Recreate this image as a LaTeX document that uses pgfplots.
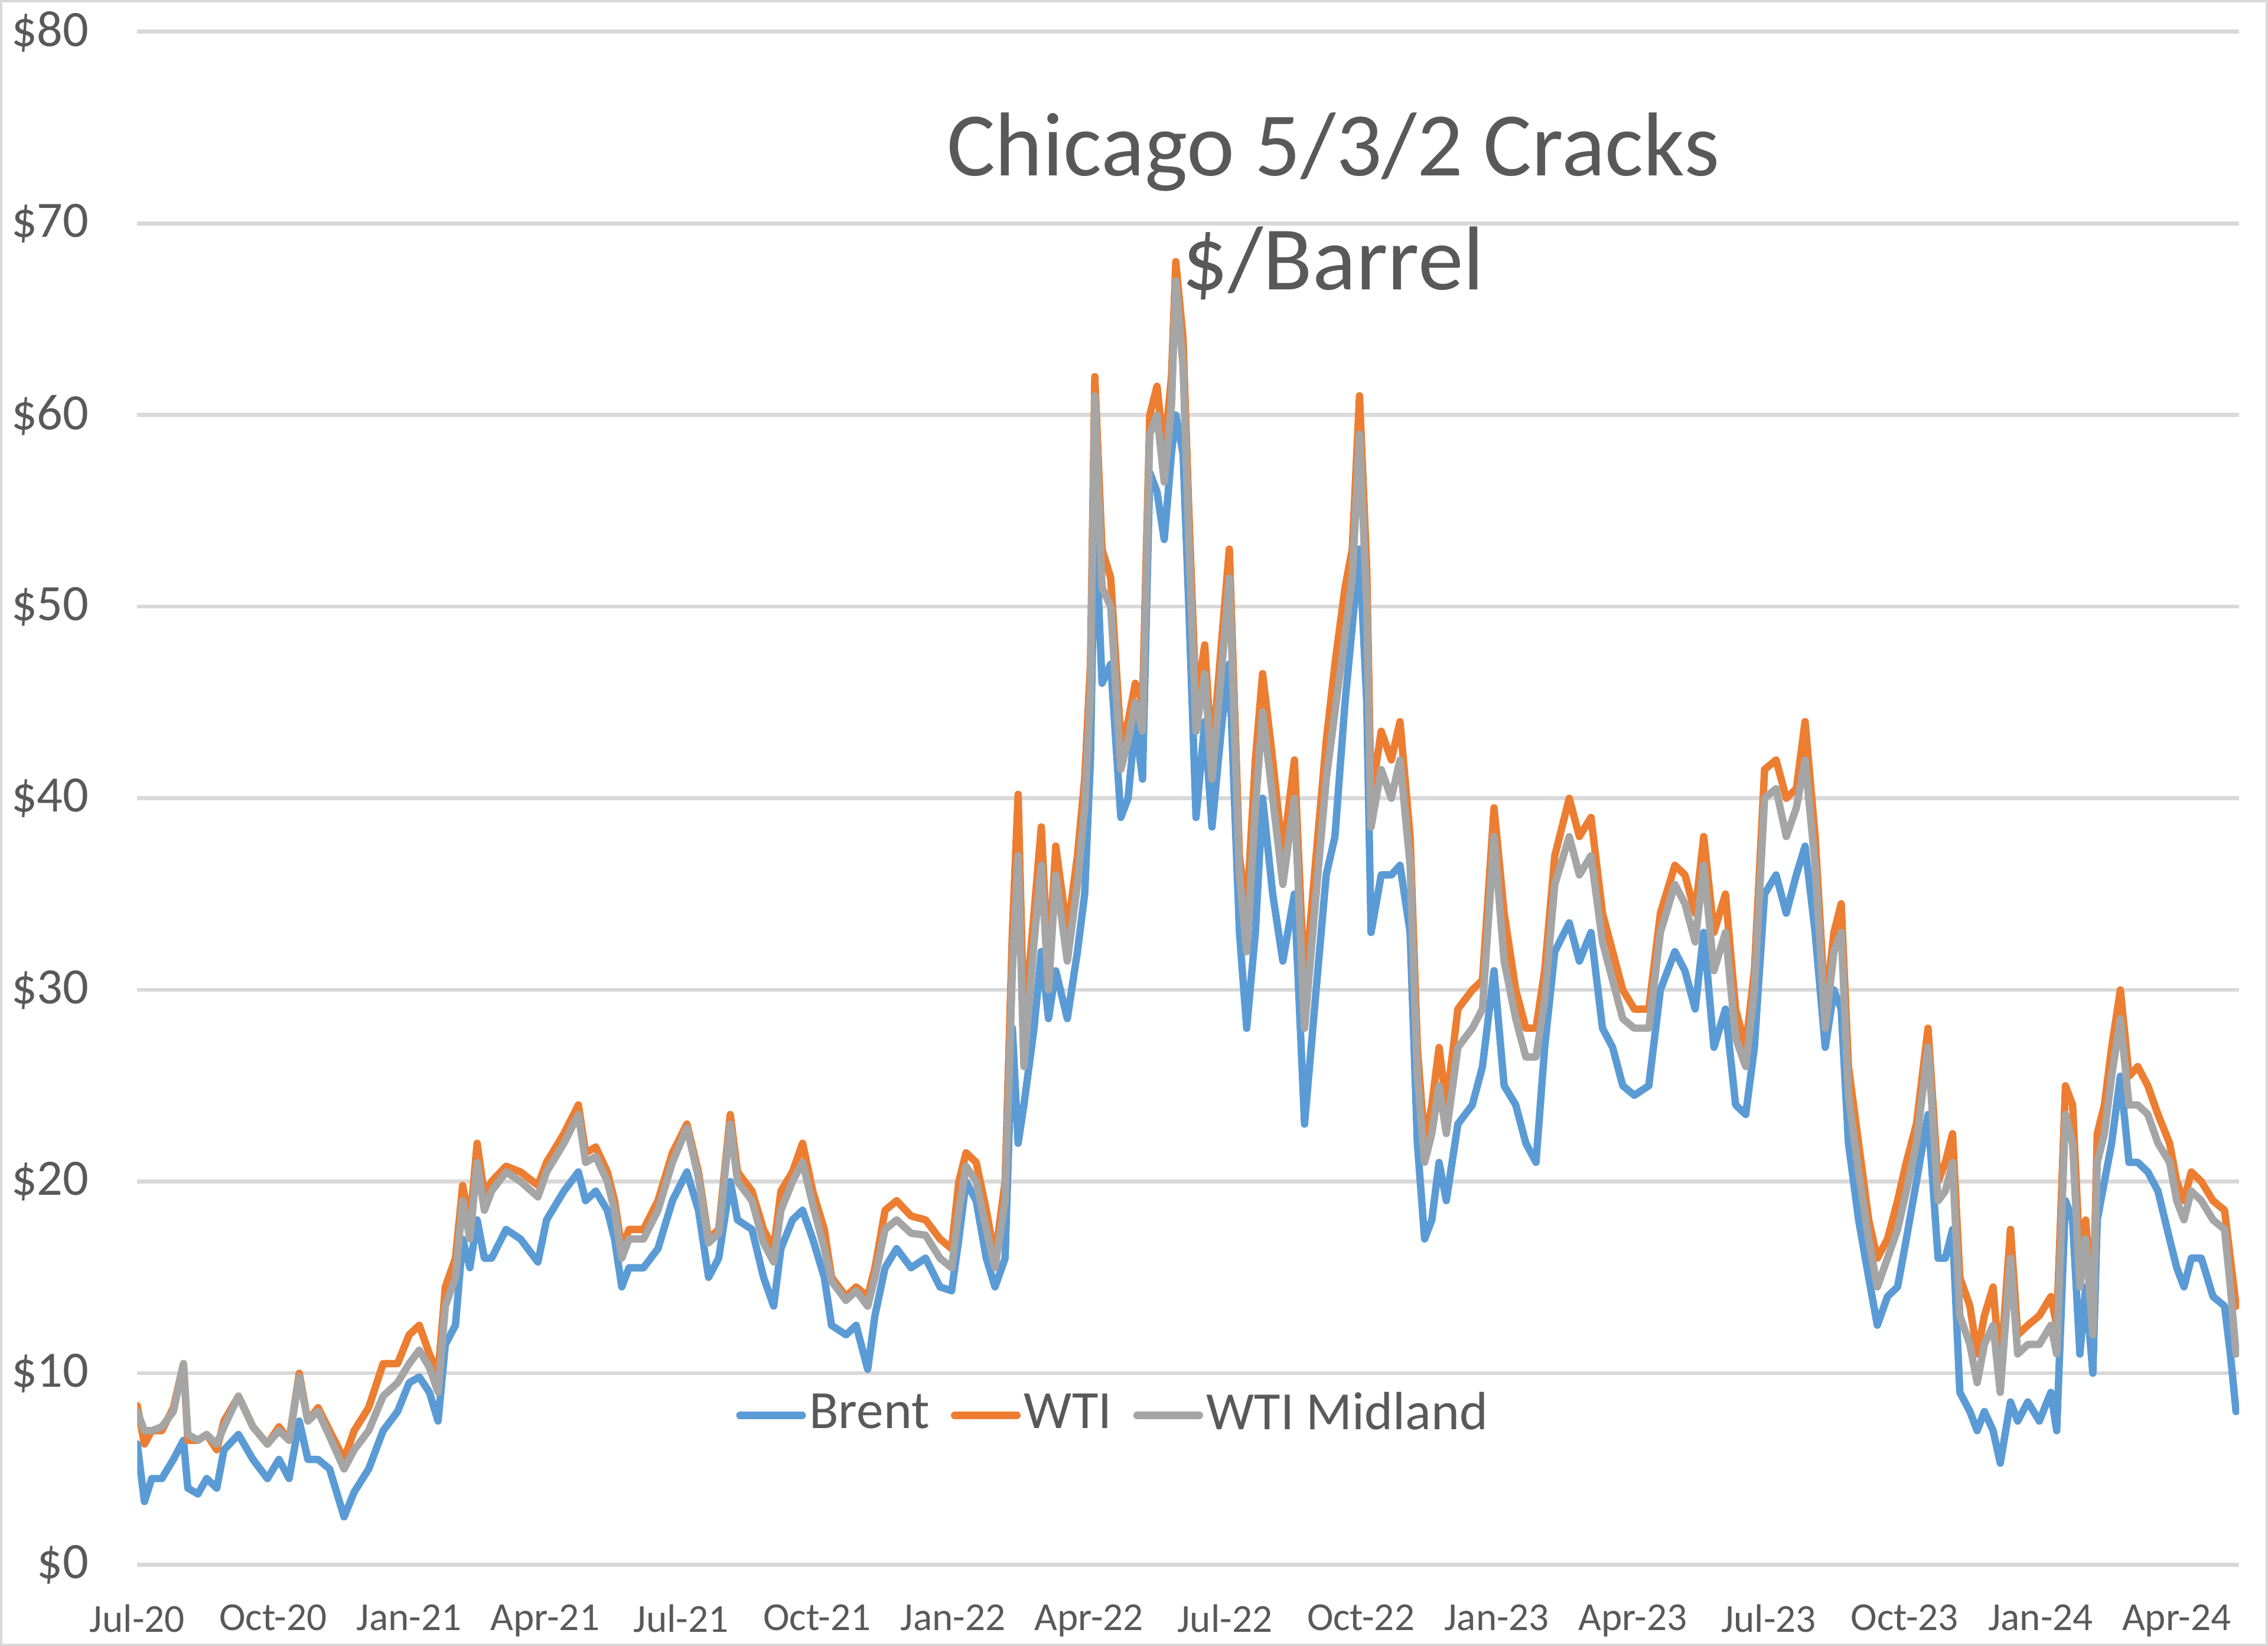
\documentclass[border=0pt]{standalone}
\usepackage{fontspec}
\setmainfont{Carlito}
\usepackage{pgfplots}
\usepackage{pgfplotstable}
\pgfplotsset{compat=1.18}
\definecolor{brent}{HTML}{5B9BD5}
\definecolor{wti}{HTML}{ED7D31}
\definecolor{mid}{HTML}{A5A5A5}
\definecolor{gridc}{HTML}{D9D9D9}
\definecolor{txt}{HTML}{595959}

% px = horizontal position (95 = 1 Jul 2020, 31.33 per month)
\pgfplotstableread{
px B W M
95 6.3 8.3 8.0
100 3.3 6.3 7.0
105 4.5 7.0 7.0
112 4.5 7.0 7.2
120 5.5 8.2 8.0
127 6.5 10.5 10.5
130 4.0 6.5 6.8
137 3.7 6.5 6.5
143 4.5 6.8 6.8
150 4.0 6.0 6.3
155 6.0 7.5 7.2
165 6.8 8.8 8.8
175 5.5 7.2 7.2
185 4.5 6.3 6.3
193 5.5 7.2 7.0
200 4.5 6.5 6.5
207 7.5 10.0 9.8
213 5.5 7.5 7.5
220 5.5 8.2 8.0
228 5.0 7.0 6.7
238 2.5 5.5 5.0
245 3.8 7.0 6.0
255 5.0 8.2 7.0
265 7.0 10.5 8.8
275 8.0 10.5 9.5
283 9.5 12.0 10.5
290 9.8 12.5 11.2
297 9.0 11.0 10.3
303 7.5 10.0 9.0
308 11.5 14.5 13.5
315 12.5 16.0 15.0
320 17.0 19.8 19.0
325 15.5 17.8 17.0
330 18.0 22.0 21.0
335 16.0 19.3 18.5
340 16.0 20.0 19.5
350 17.5 20.8 20.5
360 17.0 20.5 20.0
372 15.8 19.8 19.2
378 18.0 21.0 20.5
390 19.5 22.5 22.0
400 20.5 24.0 23.5
405 19.0 21.5 21.0
412 19.5 21.8 21.3
420 18.5 20.5 20.0
425 17.0 19.0 18.5
430 14.5 16.5 16.0
435 15.5 17.5 17.0
445 15.5 17.5 17.0
455 16.5 19.0 18.5
465 19.0 21.5 21.0
475 20.5 23.0 22.8
483 18.5 20.5 20.2
490 15.0 17.0 16.8
497 16.0 17.5 17.3
505 20.0 23.5 23.0
510 18.0 20.5 20.0
520 17.5 19.5 19.0
528 15.0 17.5 16.8
535 13.5 16.5 15.8
540 16.5 19.5 18.5
548 18.0 20.5 20.0
555 18.5 22.0 21.0
562 17.0 19.5 18.8
570 15.0 17.5 16.5
575 12.5 15.0 14.8
585 12.0 14.0 13.8
592 12.5 14.5 14.3
600 10.2 14.0 13.5
605 13.0 15.5 15.0
612 15.5 18.5 17.5
620 16.5 19.0 18.0
630 15.5 18.2 17.3
640 16.0 18.0 17.2
650 14.5 17.0 16.0
658 14.3 16.5 15.5
663 17.0 20.0 18.5
668 20.0 21.5 20.8
675 19.0 21.0 20.0
682 16.0 18.5 17.5
688 14.5 16.0 15.5
695 16.0 20.0 19.0
700 28.0 33.0 31.0
704 22.0 40.2 37.0
708 24.0 28.0 26.0
715 28.0 34.0 32.5
720 32.0 38.5 36.5
725 28.5 31.0 30.0
730 31.0 37.5 36.0
738 28.5 33.0 31.5
745 32.0 37.0 35.5
750 35.0 41.0 39.5
754 42.0 47.0 45.5
757 55.0 62.0 61.0
762 46.0 53.0 51.0
768 47.0 51.5 50.0
775 39.0 43.0 41.5
780 40.0 44.0 43.0
785 44.0 46.0 45.0
790 41.0 45.0 43.5
795 57.0 60.0 59.0
800 56.0 61.5 60.0
805 53.5 58.0 56.5
810 58.0 62.0 60.5
813 60.0 68.0 67.0
818 58.0 64.0 62.5
822 50.0 55.0 53.5
827 39.0 45.0 43.5
833 44.0 48.0 46.5
838 38.5 42.0 41.0
845 44.0 48.5 47.0
850 47.0 53.0 51.5
857 33.0 37.0 36.0
862 28.0 34.0 32.0
868 33.0 42.0 39.5
873 40.0 46.5 44.5
880 35.0 42.0 40.0
887 31.5 37.0 35.5
895 35.0 42.0 40.0
902 23.0 30.0 28.0
910 30.0 37.0 35.0
917 36.0 43.0 41.0
923 38.0 47.0 44.5
930 45.0 51.0 48.5
935 49.0 53.0 51.5
940 53.0 61.0 59.0
945 45.0 52.0 50.0
948 33.0 40.0 38.5
955 36.0 43.5 41.5
962 36.0 42.0 40.0
968 36.5 44.0 42.0
975 33.0 38.0 36.5
980 22.0 27.0 25.5
985 17.0 22.0 21.0
990 18.0 24.0 22.5
995 21.0 27.0 25.0
1000 19.0 24.0 22.5
1008 23.0 29.0 27.0
1018 24.0 30.0 28.0
1025 26.0 30.5 29.0
1033 31.0 39.5 38.0
1040 25.0 34.0 31.5
1048 24.0 30.0 28.5
1055 22.0 28.0 26.5
1062 21.0 28.0 26.5
1068 27.0 31.0 29.5
1075 32.0 37.0 35.5
1085 33.5 40.0 38.0
1092 31.5 38.0 36.0
1100 33.0 39.0 37.0
1108 28.0 34.0 32.5
1115 27.0 32.0 30.5
1122 25.0 30.0 28.5
1130 24.5 29.0 28.0
1140 25.0 29.0 28.0
1148 30.0 34.0 33.0
1158 32.0 36.5 35.5
1165 31.0 36.0 34.5
1172 29.0 34.0 32.5
1178 33.0 38.0 36.5
1185 27.0 33.0 31.0
1193 29.0 35.0 33.0
1200 24.0 29.0 27.5
1207 23.5 27.0 26.0
1213 27.0 31.0 30.0
1220 35.0 41.5 40.0
1228 36.0 42.0 40.5
1235 34.0 40.0 38.0
1242 36.0 40.5 39.5
1248 37.5 44.0 42.0
1255 33.0 38.0 36.5
1262 27.0 29.0 28.0
1268 30.0 33.0 32.0
1273 29.0 34.5 33.0
1278 22.0 26.0 24.5
1285 18.0 22.0 20.5
1292 15.0 18.0 17.0
1298 12.5 16.0 14.5
1305 14.0 17.0 16.0
1312 14.5 19.0 17.5
1318 17.0 21.0 19.5
1325 20.0 23.0 22.0
1333 23.5 28.0 27.0
1340 16.0 20.0 19.0
1345 16.0 21.0 19.5
1350 17.5 22.5 21.0
1355 9.0 15.0 13.0
1362 8.0 13.5 11.5
1367 7.0 11.0 9.5
1372 8.0 13.0 11.5
1378 7.0 14.5 12.5
1383 5.3 10.0 9.0
1390 8.5 17.5 16.0
1395 7.5 12.0 11.0
1402 8.5 12.5 11.5
1410 7.5 13.0 11.5
1418 9.0 14.0 12.5
1422 7.0 12.5 11.0
1428 19.0 25.0 23.5
1433 18.0 24.0 22.0
1438 11.0 16.0 14.5
1442 14.5 18.0 17.0
1447 10.0 13.0 12.0
1450 18.0 22.5 21.0
1455 20.0 24.0 22.5
1460 22.0 27.0 25.5
1466 25.5 30.0 28.5
1472 21.0 25.5 24.0
1478 21.0 26.0 24.0
1485 20.5 25.0 23.5
1492 19.5 23.5 22.0
1500 17.0 22.0 21.0
1505 15.5 20.0 19.0
1510 14.5 19.0 18.0
1515 16.0 20.5 19.5
1522 16.0 20.0 19.0
1530 14.0 19.0 18.0
1538 13.5 18.5 17.5
1542 11.0 16.0 14.5
1546 8.0 13.5 11.0
}\crack

\begin{document}
\begin{tikzpicture}
\begin{axis}[name=ax, at={(0,0)}, anchor=south west,
  scale only axis, width=370.7pt, height=270.4pt,
  xmin=0, xmax=46.38, ymin=0, ymax=80,
  xtick={0,3,...,45},
  xticklabels={Jul-20,Oct-20,Jan-21,Apr-21,Jul-21,Oct-21,Jan-22,Apr-22,Jul-22,Oct-22,Jan-23,Apr-23,Jul-23,Oct-23,Jan-24,Apr-24},
  ytick={0,10,...,80},
  yticklabels={\$0,\$10,\$20,\$30,\$40,\$50,\$60,\$70,\$80},
  ymajorgrids, grid style={gridc, line width=0.7pt},
  axis line style={draw=none}, tick style={draw=none},
  x tick label style={font=\fontsize{7}{8}\selectfont, text=txt, yshift=-3.5pt},
  y tick label style={font=\fontsize{9}{10}\selectfont, text=txt, xshift=-5pt},
  legend columns=3,
  legend style={at={(0.4646,0.0975)}, anchor=center, draw=none, fill=none,
    font=\fontsize{9.5}{11}\selectfont, text=txt,
    nodes={inner xsep=0.6pt, inner ysep=1pt},
    /tikz/every even column/.append style={column sep=3.2pt}},
  legend image code/.code={\draw[#1, line width=1.3pt, line cap=round] (0.6pt,0pt) -- (11.6pt,0pt);},
  every axis plot/.append style={line width=1.3pt, line join=round, line cap=round},
]
\addplot[brent, mark=none] table[x expr=(\thisrow{px}-95)/31.33, y=B] {\crack};
\addlegendentry{Brent}
\addplot[wti, mark=none] table[x expr=(\thisrow{px}-95)/31.33, y=W] {\crack};
\addlegendentry{WTI}
\addplot[mid, mark=none] table[x expr=(\thisrow{px}-95)/31.33, y=M] {\crack};
\addlegendentry{WTI Midland}
\node[font=\fontsize{16}{19}\selectfont, text=txt] at (axis description cs:0.569,0.9217) {Chicago 5/3/2 Cracks};
\node[font=\fontsize{16}{19}\selectfont, text=txt] at (axis description cs:0.569,0.849) {\$/Barrel};
\end{axis}
\draw[gridc, line width=0.8pt] ([shift={(-24.2pt,-14.3pt)}]ax.south west) rectangle ([shift={(5.1pt,5.6pt)}]ax.north east);
\pgfresetboundingbox
\path ([shift={(-24.2pt,-14.3pt)}]ax.south west) rectangle ([shift={(5.1pt,5.6pt)}]ax.north east);
\end{tikzpicture}
\end{document}
